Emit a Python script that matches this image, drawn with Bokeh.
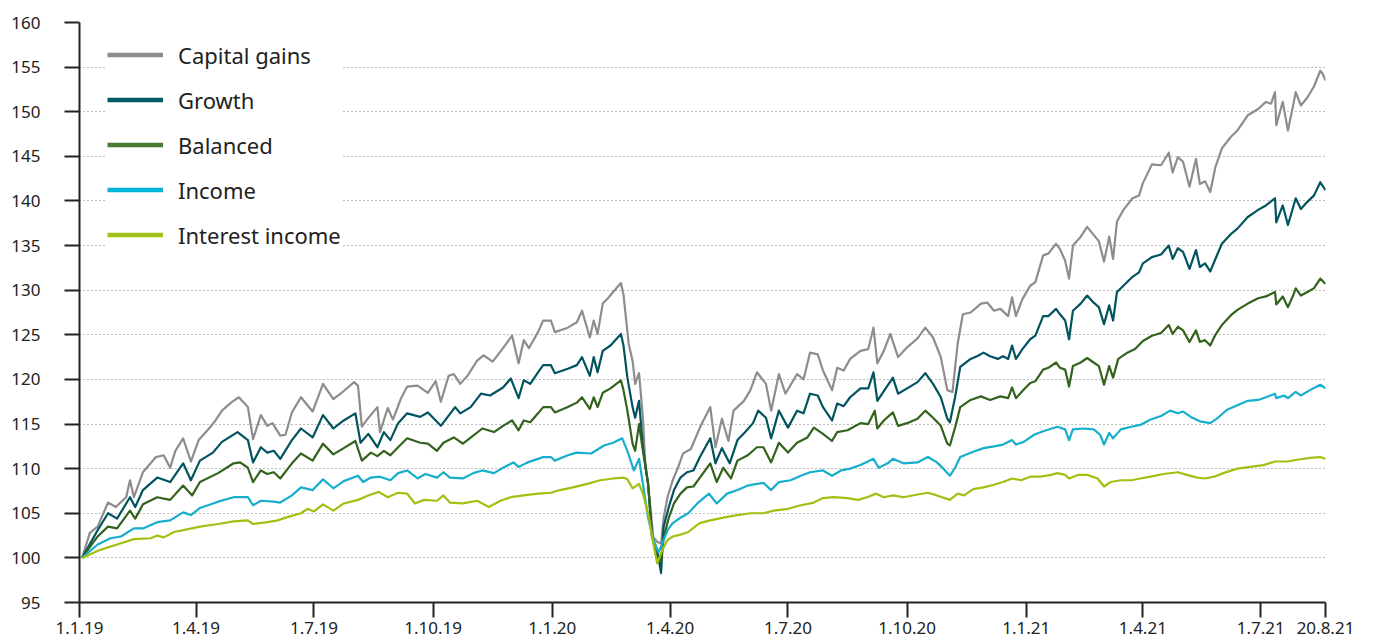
import pandas as pd
from bokeh.plotting import figure
from bokeh.models import FixedTicker, CustomJSTickFormatter, Legend, LegendItem, Range1d
from bokeh.embed import file_html
from bokeh.resources import INLINE

# ---------------- data (index values, 1.1.2019 = 100) ----------------
START = "2019-01-01"
END = "2021-08-20"

series_names = ["Capital gains", "Growth", "Balanced", "Income", "Interest income"]

# days after 1.1.2019
cg_days = [2, 8, 14, 22, 28, 36, 39, 42, 49, 59, 65, 70, 74, 80, 86, 92, 100, 105, 110, 117,
           123, 130, 134, 140, 145, 149, 155, 159, 164, 171, 180, 188, 196, 204, 212, 215, 218,
           222, 230, 232, 238, 242, 248, 253, 261, 269, 275, 279, 285, 289, 294, 300, 307, 312,
           319, 327, 334, 339, 343, 347, 354, 358, 364, 367, 377, 384, 388, 394, 397, 400, 404,
           408, 412, 418, 420, 424, 427, 429, 432, 435, 437, 439, 443, 446, 449, 451, 454, 458,
           462, 466, 472, 479, 487, 491, 496, 501, 505, 513, 518, 523, 530, 534, 540, 545, 554,
           559, 564, 570, 574, 581, 585, 590, 595, 603, 609, 613, 616, 621, 626, 632, 639, 647,
           653, 659, 665, 670, 674, 678, 682, 688, 696, 701, 706, 711, 717, 720, 723, 728, 734,
           738, 744, 748, 754, 757, 761, 764, 767, 773, 778, 783, 787, 791, 795, 798, 801, 806,
           813, 818, 821, 828, 835, 841, 844, 848, 852, 857, 862, 865, 869, 873, 877, 882, 889,
           894, 902, 910, 916, 920, 923, 924, 929, 933, 937, 939, 943, 948, 953, 958, 960, 962]
cg_vals = [100.0, 102.8, 103.5, 106.2, 105.7, 106.8, 108.7, 106.8, 109.6, 111.3, 111.5, 110.1,
           112.0, 113.4, 110.8, 113.2, 114.5, 115.4, 116.5, 117.4, 118.0, 116.9, 113.3, 116.0,
           114.8, 115.1, 113.7, 113.8, 116.3, 118.0, 116.4, 119.5, 117.8, 118.7, 119.7, 119.3,
           114.7, 115.5, 116.9, 114.1, 116.8, 115.5, 117.8, 119.2, 119.3, 118.5, 119.8, 117.5,
           120.4, 120.6, 119.5, 120.5, 122.1, 122.7, 122.0, 123.5, 124.9, 121.8, 124.4, 123.5,
           125.3, 126.6, 126.6, 125.3, 125.8, 126.4, 127.7, 124.7, 126.6, 125.1, 128.5, 129.1,
           129.8, 130.8, 129.5, 124.0, 122.1, 119.5, 120.7, 115.7, 110.1, 108.3, 102.3, 101.8,
           101.6, 104.5, 106.8, 108.7, 110.1, 111.7, 112.2, 114.6, 116.9, 112.4, 115.6, 113.1,
           116.5, 117.6, 118.8, 120.8, 119.5, 116.5, 120.6, 118.4, 120.6, 120.0, 123.0, 122.8,
           121.0, 118.8, 121.3, 121.0, 122.3, 123.2, 123.4, 125.8, 121.8, 123.2, 125.1, 122.5,
           123.6, 124.6, 125.8, 124.7, 122.5, 118.8, 118.6, 124.0, 127.3, 127.5, 128.5, 128.6,
           127.7, 127.9, 127.1, 129.2, 127.1, 129.0, 130.5, 130.9, 133.9, 134.1, 135.2, 134.6,
           133.3, 131.3, 135.0, 136.0, 137.1, 136.2, 135.5, 133.2, 136.0, 133.5, 137.7, 139.0,
           140.3, 140.6, 142.0, 144.1, 144.0, 145.4, 143.2, 144.9, 144.4, 141.6, 144.7, 141.9,
           142.2, 141.0, 143.8, 145.9, 147.2, 147.9, 149.6, 150.3, 151.1, 150.9, 152.2, 148.5,
           151.1, 147.9, 150.7, 152.2, 150.7, 151.6, 152.8, 154.6, 154.2, 153.5]

gr_days = [2, 14, 22, 29, 39, 43, 49, 60, 70, 80, 86, 93, 103, 110, 122, 130, 134, 140, 145, 150,
           155, 164, 171, 180, 188, 196, 204, 213, 217, 223, 230, 235, 240, 246, 253, 263, 269,
           279, 290, 294, 302, 310, 317, 327, 333, 339, 343, 348, 354, 358, 364, 367, 377, 384,
           388, 394, 397, 400, 404, 410, 418, 420, 423, 427, 429, 432, 435, 439, 442, 446, 449,
           451, 455, 459, 464, 469, 474, 479, 487, 491, 496, 502, 508, 514, 520, 524, 530, 534,
           540, 547, 554, 559, 564, 570, 574, 581, 585, 590, 595, 603, 609, 613, 616, 621, 628,
           632, 639, 647, 653, 659, 665, 670, 672, 676, 680, 688, 693, 698, 703, 709, 713, 717,
           720, 723, 728, 734, 738, 744, 748, 754, 757, 761, 764, 767, 773, 778, 783, 787, 791,
           795, 798, 801, 806, 813, 818, 821, 828, 835, 841, 844, 848, 852, 857, 862, 865, 869,
           873, 877, 882, 889, 894, 902, 910, 916, 923, 924, 929, 933, 937, 939, 943, 948, 953,
           958, 962]
gr_vals = [100.0, 103.1, 105.0, 104.4, 106.8, 105.7, 107.6, 109.0, 108.5, 110.6, 108.7, 110.9,
           111.8, 113.0, 114.1, 113.2, 110.7, 112.4, 111.8, 112.0, 111.1, 113.2, 114.5, 113.5,
           116.0, 114.5, 115.4, 116.2, 112.9, 113.9, 112.4, 114.1, 113.2, 115.1, 116.2, 115.8,
           116.3, 114.8, 116.9, 116.2, 116.9, 118.4, 118.2, 119.1, 120.1, 117.9, 119.9, 119.5,
           120.8, 121.6, 121.6, 120.7, 121.2, 121.6, 122.5, 120.4, 122.5, 120.8, 123.2, 123.8,
           125.1, 123.8, 120.2, 116.9, 115.7, 117.6, 112.4, 108.3, 102.3, 100.9, 98.3, 103.5,
           105.7, 107.6, 109.0, 109.6, 109.8, 111.3, 113.4, 110.6, 112.3, 110.6, 113.2, 114.1,
           115.1, 116.5, 115.7, 113.4, 116.5, 114.6, 116.5, 116.2, 118.4, 118.2, 116.9, 115.4,
           117.3, 117.0, 118.0, 119.0, 119.0, 120.8, 117.6, 118.7, 120.2, 118.4, 119.0, 119.7,
           120.7, 119.5, 118.0, 115.6, 115.2, 118.0, 121.4, 122.3, 122.6, 123.0, 122.6, 122.3,
           122.6, 122.3, 123.8, 122.3, 123.4, 124.5, 124.9, 127.1, 127.1, 127.9, 127.3, 126.6,
           124.5, 127.7, 128.5, 129.4, 128.6, 128.1, 126.2, 128.3, 126.6, 129.8, 130.5, 131.5,
           132.0, 133.0, 133.7, 134.0, 135.0, 133.5, 134.7, 134.3, 132.4, 134.5, 132.6, 133.0,
           132.1, 133.5, 135.2, 136.3, 136.9, 138.2, 139.0, 139.5, 140.3, 137.6, 139.5, 137.3,
           139.3, 140.3, 139.1, 139.9, 140.6, 142.1, 141.2]

ba_days = [2, 14, 22, 29, 39, 43, 49, 60, 70, 80, 87, 93, 107, 119, 124, 130, 134, 140, 145, 150,
           155, 164, 171, 180, 188, 196, 204, 213, 218, 225, 230, 235, 240, 246, 253, 263, 269,
           276, 281, 289, 296, 304, 311, 320, 327, 334, 339, 343, 348, 354, 358, 364, 367, 377,
           384, 388, 394, 397, 400, 404, 410, 418, 420, 423, 427, 429, 432, 435, 439, 442, 446,
           449, 451, 455, 459, 464, 469, 474, 479, 487, 492, 497, 503, 508, 516, 523, 528, 534,
           540, 547, 554, 562, 567, 574, 581, 585, 593, 603, 609, 614, 616, 621, 628, 632, 639,
           647, 653, 659, 665, 670, 672, 676, 680, 688, 696, 703, 711, 717, 720, 723, 728, 734,
           738, 744, 748, 754, 757, 761, 764, 767, 773, 778, 783, 787, 791, 795, 798, 802, 809,
           815, 821, 828, 835, 841, 844, 848, 852, 857, 862, 865, 869, 873, 877, 882, 889, 894,
           902, 910, 916, 923, 924, 929, 933, 937, 939, 943, 948, 953, 958, 962]
ba_vals = [100.0, 102.4, 103.5, 103.3, 105.3, 104.4, 106.0, 106.8, 106.5, 108.1, 107.0, 108.5,
           109.5, 110.6, 110.7, 110.1, 108.5, 109.8, 109.4, 109.6, 108.9, 110.6, 111.7, 110.9,
           112.8, 111.6, 112.3, 113.1, 110.9, 111.8, 111.4, 112.0, 111.5, 112.4, 113.4, 112.9,
           112.8, 112.0, 112.9, 113.5, 112.8, 113.7, 114.5, 114.1, 114.8, 115.4, 114.3, 115.4,
           115.2, 116.2, 116.9, 116.9, 116.3, 116.9, 117.4, 118.0, 116.7, 118.0, 116.9, 118.5,
           119.0, 119.9, 118.8, 116.5, 112.8, 112.0, 115.0, 112.0, 108.3, 102.7, 100.1, 99.6,
           102.3, 104.5, 106.1, 107.2, 107.9, 108.0, 109.0, 110.6, 108.5, 110.1, 108.9, 110.9,
           111.5, 112.4, 112.4, 110.7, 112.9, 111.8, 112.9, 113.5, 114.6, 113.9, 113.1, 114.1,
           114.3, 115.1, 115.0, 116.5, 114.5, 115.4, 116.3, 114.8, 115.1, 115.6, 116.5, 115.7,
           114.8, 112.8, 112.6, 114.6, 116.9, 117.7, 118.1, 117.7, 118.1, 117.9, 119.1, 117.9,
           118.7, 119.6, 119.8, 121.1, 121.3, 121.9, 121.3, 121.1, 119.2, 121.5, 121.9, 122.4,
           121.9, 121.5, 119.4, 121.5, 120.2, 122.3, 123.0, 123.4, 124.3, 124.9, 125.2, 126.1,
           125.1, 125.9, 125.5, 124.2, 125.5, 124.2, 124.4, 123.8, 125.0, 126.1, 127.2, 127.8,
           128.5, 129.1, 129.3, 129.8, 128.4, 129.3, 128.1, 129.4, 130.2, 129.4, 129.8, 130.2,
           131.3, 130.7]

in_days = [2, 14, 24, 32, 42, 49, 60, 70, 80, 86, 93, 107, 119, 130, 134, 140, 150, 155, 164,
           171, 180, 188, 196, 204, 215, 219, 225, 232, 240, 246, 253, 261, 267, 276, 281, 286,
           296, 304, 311, 320, 327, 335, 339, 346, 354, 358, 364, 367, 377, 384, 395, 405, 412,
           419, 423, 428, 432, 435, 439, 443, 447, 450, 454, 458, 464, 470, 477, 486, 492, 500,
           508, 516, 523, 528, 534, 540, 549, 557, 564, 574, 581, 588, 595, 603, 613, 617, 624,
           628, 636, 647, 655, 662, 667, 672, 676, 680, 690, 698, 706, 713, 720, 723, 729, 737,
           744, 755, 761, 764, 767, 775, 783, 788, 791, 795, 798, 804, 812, 819, 827, 835, 842,
           848, 852, 858, 865, 873, 879, 886, 894, 902, 910, 916, 923, 924, 930, 933, 939, 943,
           950, 958, 962]
in_vals = [100.0, 101.5, 102.2, 102.4, 103.3, 103.3, 104.0, 104.2, 105.1, 104.8, 105.6, 106.3,
           106.8, 106.8, 105.9, 106.4, 106.3, 106.2, 107.0, 107.9, 107.6, 108.8, 107.8, 108.6,
           109.2, 108.5, 109.0, 109.1, 108.7, 109.5, 109.8, 108.9, 109.4, 109.0, 109.6, 109.0,
           108.9, 109.5, 109.8, 109.5, 110.1, 110.7, 110.2, 110.7, 111.1, 111.3, 111.3, 110.9,
           111.5, 111.8, 111.7, 112.6, 112.9, 113.4, 112.0, 109.8, 111.1, 108.3, 104.5, 102.0,
           100.6, 101.6, 103.1, 103.9, 104.5, 105.0, 106.1, 107.2, 106.1, 107.2, 107.6, 108.1,
           108.3, 108.4, 107.6, 108.5, 108.7, 109.2, 109.6, 109.8, 109.2, 109.8, 110.0, 110.4,
           111.1, 110.1, 110.6, 111.1, 110.6, 110.7, 111.3, 110.7, 110.0, 109.2, 110.1, 111.3,
           111.9, 112.3, 112.5, 112.7, 113.2, 112.7, 113.0, 113.8, 114.2, 114.7, 114.4, 113.2,
           114.4, 114.5, 114.4, 113.8, 112.7, 114.0, 113.4, 114.4, 114.7, 114.9, 115.5, 115.9,
           116.5, 116.2, 116.4, 115.8, 115.3, 115.1, 115.7, 116.6, 117.1, 117.6, 117.7, 118.0,
           118.4, 117.9, 118.2, 117.9, 118.6, 118.2, 118.8, 119.4, 119.0]

ii_days = [2, 16, 29, 42, 55, 60, 65, 73, 83, 93, 107, 119, 130, 134, 145, 153, 161, 171, 176,
           181, 188, 196, 204, 215, 223, 231, 238, 246, 253, 259, 266, 276, 281, 286, 296, 307,
           316, 325, 333, 343, 354, 364, 371, 381, 392, 402, 412, 420, 423, 427, 432, 435, 439,
           443, 446, 450, 454, 458, 464, 470, 477, 479, 487, 500, 508, 518, 528, 536, 547, 557,
           567, 574, 582, 593, 601, 608, 615, 621, 628, 636, 647, 655, 662, 672, 678, 683, 690,
           698, 706, 713, 720, 727, 734, 742, 750, 755, 761, 764, 771, 778, 786, 791, 796, 804,
           812, 819, 827, 837, 848, 855, 863, 869, 876, 883, 894, 904, 914, 923, 933, 940, 950,
           958, 962]
ii_vals = [100.0, 100.9, 101.5, 102.1, 102.2, 102.5, 102.3, 102.9, 103.2, 103.5, 103.8, 104.1,
           104.2, 103.8, 104.0, 104.2, 104.6, 105.0, 105.5, 105.2, 106.0, 105.3, 106.1, 106.5,
           107.0, 107.4, 106.8, 107.3, 107.2, 106.1, 106.5, 106.4, 107.0, 106.2, 106.1, 106.4,
           105.7, 106.4, 106.8, 107.0, 107.2, 107.3, 107.6, 107.9, 108.3, 108.7, 108.9, 109.0,
           108.8, 107.8, 108.3, 107.2, 105.0, 101.6, 99.4, 100.9, 102.0, 102.4, 102.6, 102.9,
           103.7, 103.9, 104.2, 104.6, 104.8, 105.0, 105.0, 105.3, 105.5, 105.9, 106.2, 106.7,
           106.8, 106.7, 106.5, 106.8, 107.2, 106.8, 107.0, 106.8, 107.1, 107.3, 107.0, 106.5,
           107.2, 107.0, 107.7, 107.9, 108.2, 108.5, 108.9, 108.7, 109.1, 109.1, 109.3, 109.5,
           109.3, 108.9, 109.3, 109.3, 108.9, 108.0, 108.5, 108.7, 108.7, 108.9, 109.1, 109.4,
           109.6, 109.3, 109.0, 108.9, 109.1, 109.5, 110.0, 110.2, 110.4, 110.8, 110.8, 111.0,
           111.2, 111.3, 111.1]

x_tick_dates = ["2019-01-01", "2019-04-01", "2019-07-01", "2019-10-01", "2020-01-01",
                "2020-04-01", "2020-07-01", "2020-10-01", "2021-01-01", "2021-04-01",
                "2021-07-01", "2021-08-20"]
x_tick_labels = ["1.1.19", "1.4.19", "1.7.19", "1.10.19", "1.1.20", "1.4.20", "1.7.20",
                 "1.10.20", "1.1.21", "1.4.21", "1.7.21", "20.8.21"]
y_ticks = [95, 100, 105, 110, 115, 120, 125, 130, 135, 140, 145, 150, 155, 160]

# ---------------- styling ----------------
line_colors = ["#8d8d8d", "#00535f", "#33621c", "#17aecb", "#a3bf12"]
legend_colors = ["#8c8c8c", "#005a64", "#4a7a32", "#00b4d8", "#a0c21a"]
FONT = "Noto Sans"
TEXT = "#222222"

start = pd.Timestamp(START)


def to_dates(days):
    return [start + pd.Timedelta(days=d) for d in days]


p = figure(width=1370, height=640, x_axis_type="datetime",
           x_range=Range1d(start=pd.Timestamp(START), end=pd.Timestamp(END)),
           y_range=Range1d(start=95, end=160),
           output_backend="svg", toolbar_location=None,
           min_border_left=79, min_border_right=45, min_border_top=22, min_border_bottom=38)
p.outline_line_color = None
p.background_fill_color = "white"

all_days = [cg_days, gr_days, ba_days, in_days, ii_days]
all_vals = [cg_vals, gr_vals, ba_vals, in_vals, ii_vals]
for days, vals, col in zip(all_days, all_vals, line_colors):
    p.line(x=to_dates(days), y=vals, line_color=col, line_width=2.2, line_join="round")

# axes
tick_ms = [pd.Timestamp(d).value // 10**6 for d in x_tick_dates]
p.xaxis.ticker = FixedTicker(ticks=tick_ms, minor_ticks=[])
p.xaxis.formatter = CustomJSTickFormatter(args=dict(ts=tick_ms, labels=x_tick_labels), code="""
let best = 0;
for (let i = 0; i < ts.length; i++) {
  if (Math.abs(ts[i] - tick) < Math.abs(ts[best] - tick)) best = i;
}
return labels[best];
""")
p.yaxis.ticker = FixedTicker(ticks=y_ticks, minor_ticks=[])

for ax in (p.xaxis[0], p.yaxis[0]):
    ax.axis_line_color = "#222222"
    ax.axis_line_width = 2
    ax.major_tick_line_color = "#222222"
    ax.major_tick_line_alpha = 1.0
    ax.major_tick_line_width = 2
    ax.major_tick_out = 15
    ax.major_tick_in = 0
    ax.minor_tick_out = 0
    ax.minor_tick_in = 0
    ax.major_label_text_font = FONT
    ax.major_label_text_color = TEXT
    ax.major_label_text_font_size = "17px"

p.yaxis.major_label_standoff = 24
p.xaxis.major_label_standoff = 4

p.xgrid.visible = False
p.ygrid.ticker = FixedTicker(ticks=y_ticks[1:], minor_ticks=[])
p.ygrid.grid_line_color = "#7a7a7a"
p.ygrid.grid_line_width = 1
p.ygrid.grid_line_dash = "1 3"

# legend with thicker sample lines (dummy renderers placed outside the visible range)
items = []
hidden_x = [pd.Timestamp("2018-06-01"), pd.Timestamp("2018-06-02")]
hidden_y = [0, 0]
for name, col in zip(series_names, legend_colors):
    r = p.line(x=hidden_x, y=hidden_y, line_color=col, line_width=4.5)
    items.append(LegendItem(label=name, renderers=[r]))
legend = Legend(items=items, location=(28, 345), orientation="vertical",
                glyph_width=56, glyph_height=45, label_height=45, spacing=0,
                padding=8, margin=0, label_standoff=15,
                label_text_font=FONT, label_text_font_size="22px", label_text_color=TEXT,
                border_line_color=None, background_fill_color="white", background_fill_alpha=1.0)
p.add_layout(legend)

open("out.html", "w").write(file_html(p, INLINE))
